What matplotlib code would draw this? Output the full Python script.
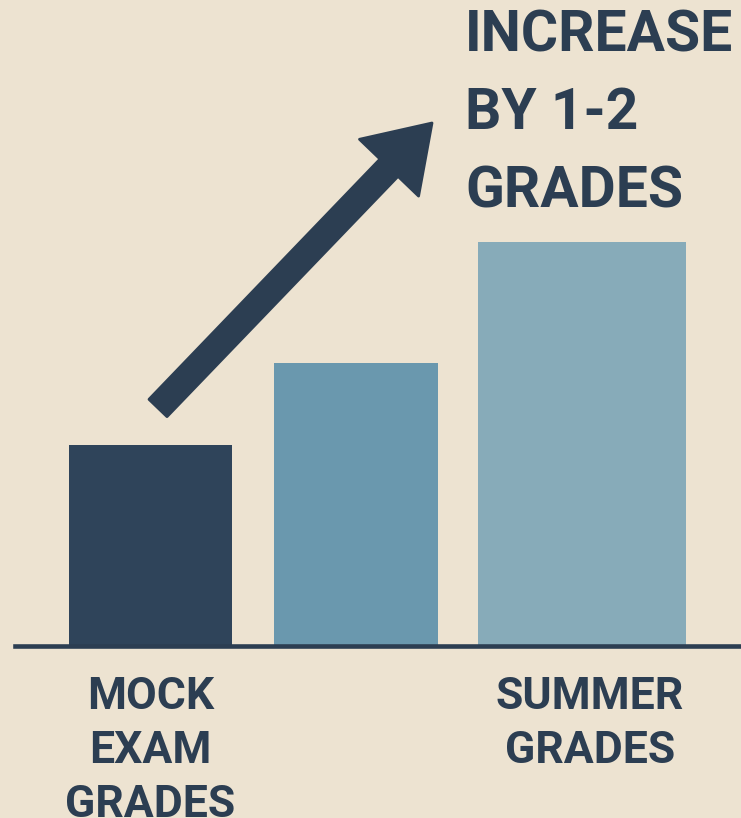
import matplotlib
matplotlib.use('Agg')
import matplotlib.pyplot as plt
from matplotlib.patches import FancyArrow

# data: relative grade level for each bar (summer grades = 10)
categories = ['MOCK\nEXAM\nGRADES', '', 'SUMMER\nGRADES']
values = [4.97, 7.0, 10.0]
headline = 'INCREASE\nBY 1-2\nGRADES'

# layout (pixels in a 741x818 canvas)
W, H = 741, 818
bar_centers = [150.5, 356, 582]
bar_widths = [163, 164, 208]
bar_colors = ['#2f445a', '#6a98ae', '#87abb9']
bg = '#ede3d1'
navy = '#2c3e52'
baseline_px = 645.5
px_per_unit = 40.35

plt.rcParams['font.family'] = ['Roboto', 'DejaVu Sans']

fig = plt.figure(figsize=(W / 100, H / 100), dpi=100, facecolor=bg)

# bars
ax = fig.add_axes([0, (H - baseline_px) / H, 1, baseline_px / H])
ax.set_facecolor(bg)
ax.bar(bar_centers, values, width=bar_widths, color=bar_colors, align='center', zorder=2)
ax.set_xlim(0, W)
ax.set_ylim(0, baseline_px / px_per_unit)
ax.axhline(0, xmin=15 / W, xmax=1, color=navy, lw=3.3, clip_on=False, zorder=3)
ax.axis('off')

# overlay in pixel coordinates for arrow and text
ov = fig.add_axes([0, 0, 1, 1], facecolor='none')
ov.set_xlim(0, W)
ov.set_ylim(H, 0)
ov.axis('off')

arrow = FancyArrow(158, 408, 432 - 158, 123 - 408, width=25, head_width=82,
                   head_length=62, length_includes_head=True,
                   color=navy, joinstyle='round', capstyle='round', lw=2)
ov.add_patch(arrow)

ov.text(465, 8, headline, ha='left', va='top', fontsize=41, fontweight='bold',
        color=navy, linespacing=1.54)

label_x = [bar_centers[0], None, 590]
for lx, lab in zip(label_x, categories):
    if lab:
        ov.text(lx, 676, lab, ha='center', va='top', fontsize=32, fontweight='bold',
                color=navy, linespacing=1.36)

fig.savefig('out.png', dpi=100, facecolor=bg)
